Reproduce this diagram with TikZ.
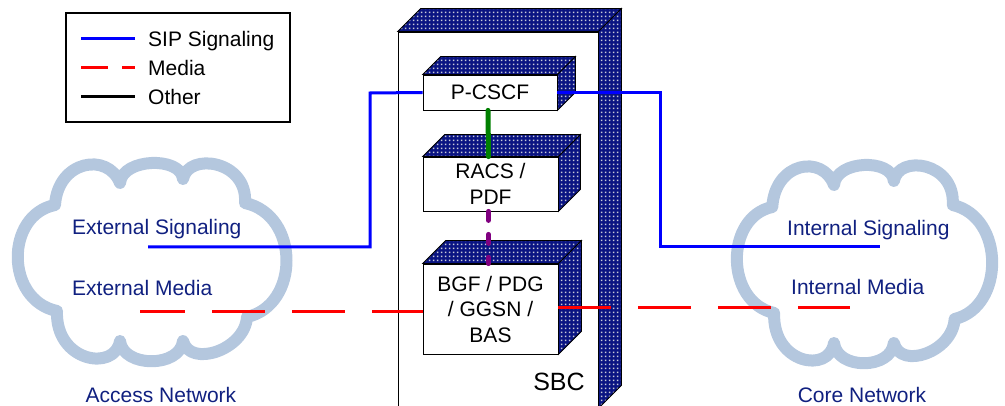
\documentclass[tikz,border=0pt]{standalone}
\usepackage{fontspec}
\setmainfont{Liberation Sans}
\usetikzlibrary{patterns,calc}
\pgfdeclarepatternformonly{sqdots}{\pgfqpoint{0pt}{0pt}}{\pgfqpoint{4pt}{4pt}}{\pgfqpoint{4pt}{4pt}}{\pgfpathrectangle{\pgfqpoint{1.1pt}{1.1pt}}{\pgfqpoint{1.8pt}{1.8pt}}\pgfusepath{fill}}
\definecolor{navyc}{RGB}{10,20,130}
\definecolor{dotc}{RGB}{200,202,215}
\definecolor{sipblue}{RGB}{0,0,255}
\definecolor{mediared}{RGB}{255,0,0}
\definecolor{greenc}{RGB}{0,128,0}
\definecolor{purplec}{RGB}{128,0,128}
\definecolor{cloudc}{RGB}{180,199,222}
\definecolor{txtc}{RGB}{16,32,128}
\tikzset{
 cloudline/.style={draw=cloudc, line width=12pt, line join=round},
 netlabel/.style={text=txtc, font=\fontsize{21}{25}\selectfont, inner sep=0pt, anchor=base west},
 boxlabel/.style={draw=black, line width=0.8pt, fill=white, inner sep=0pt, align=center, font=\fontsize{21}{25.5}\selectfont},
 facefill/.style={draw=black, line width=0.8pt, pattern=sqdots, pattern color=dotc, preaction={fill=navyc}},
 sip/.style={draw=sipblue, line width=3pt},
 media/.style={draw=mediared, line width=3pt, dash pattern=on 53pt off 27pt},
 legmedia/.style={draw=mediared, line width=3pt, dash pattern=on 27pt off 14pt},
 other/.style={draw=black, line width=3pt},
 racsline/.style={draw=greenc, line width=5pt, line cap=round},
 pdfline/.style={draw=purplec, line width=5pt, line cap=round, dash pattern=on 9pt off 14pt},
 legtext/.style={inner sep=0pt, anchor=base west, font=\fontsize{21}{25}\selectfont},
 cloudshape/.pic={
  \draw[cloudline] (55,205) .. controls (58,160) and (108,152) .. (120,183)
   .. controls (122,158) and (181,156) .. (183,179)
   .. controls (188,152) and (248,160) .. (245,203)
   .. controls (300,215) and (300,305) .. (247,317)
   .. controls (245,350) and (190,368) .. (183,341)
   .. controls (180,368) and (123,368) .. (120,341)
   .. controls (115,372) and (55,362) .. (57,311)
   .. controls (5,300) and (5,215) .. (55,205) -- cycle;
 }
}
\newcommand\boxfaces[2]{%
 \path[facefill] (#1.north west) -- ++(#2,-#2) -- ($(#1.north east)+(#2,-#2)$) -- (#1.north east) -- cycle;
 \path[facefill] (#1.north east) -- ++(#2,-#2) -- ($(#1.south east)+(#2,-#2)$) -- (#1.south east) -- cycle;}
\begin{document}
\begin{tikzpicture}[x=1pt,y=-1pt]
\useasboundingbox (0,0) rectangle (1005,406);
% clouds
\pic at (0,0) {cloudshape};
\pic[xscale=0.95] at (720,2) {cloudshape};
% legend
\node[draw=black, line width=1.2pt, minimum width=224pt, minimum height=109pt, inner sep=0pt] (legend) at (178,67.5) {};
\coordinate (ls1) at (81,39); \coordinate (le1) at (135,39);
\coordinate (ls2) at (81,68); \coordinate (le2) at (135,68);
\coordinate (ls3) at (81,97); \coordinate (le3) at (135,97);
\draw[sip] (ls1) -- (le1);
\draw[legmedia] (ls2) -- (le2);
\draw[other] (ls3) -- (le3);
\node[legtext] (lt1) at (148,46.5) {SIP Signaling};
\node[legtext] (lt2) at (148,75.5) {Media};
\node[legtext] (lt3) at (148,104.5) {Other};
% SBC
\node[draw=black, line width=0.8pt, fill=white, minimum width=200pt, minimum height=376pt, inner sep=0pt] (sbc) at (498,220) {};
\boxfaces{sbc}{23}
\node[inner sep=0pt, anchor=base, font=\fontsize{25}{30}\selectfont] (sbclbl) at (559,391) {SBC};
% inner boxes
\node[boxlabel, minimum width=134pt, minimum height=35pt] (pcscf) at (490,92.5) {P-CSCF};
\boxfaces{pcscf}{18}
\node[boxlabel, minimum width=135pt, minimum height=54pt] (racs) at (490.5,184) {RACS /\\PDF};
\boxfaces{racs}{22}
\node[boxlabel, minimum width=135pt, minimum height=90pt] (bgf) at (490.5,309) {BGF / PDG\\/ GGSN /\\BAS};
\boxfaces{bgf}{23}
% network labels
\node[netlabel] (extsig) at (72,234.5) {External Signaling};
\node[netlabel] (extmed) at (72,295.5) {External Media};
\node[netlabel, anchor=base] (accnet) at (161,402.5) {Access Network};
\node[netlabel] (intsig) at (787,235.5) {Internal Signaling};
\node[netlabel] (intmed) at (791,294.5) {Internal Media};
\node[netlabel, anchor=base] (corenet) at (862,402.5) {Core Network};
% connectors
\coordinate (es) at (148,247);
\coordinate (bl) at (370,93);
\coordinate (br) at (660,247);
\coordinate (is) at (880,247);
\draw[sip] (es) -| (bl) -- (pcscf.west);
\draw[sip] (pcscf.east) -| (br) -- (is);
\coordinate (em) at (140,312);
\coordinate (im) at (850,308);
\draw[media, dash phase=8pt] (em) -- (em -| bgf.west);
\draw[media] (im -| bgf.east) -- (im);
\draw[racsline] ([xshift=-2pt]pcscf.south) -- ([xshift=-2pt]racs.north);
\draw[pdfline] ([xshift=-2pt]racs.south) -- ([xshift=-2pt]bgf.north);
\end{tikzpicture}
\end{document}
